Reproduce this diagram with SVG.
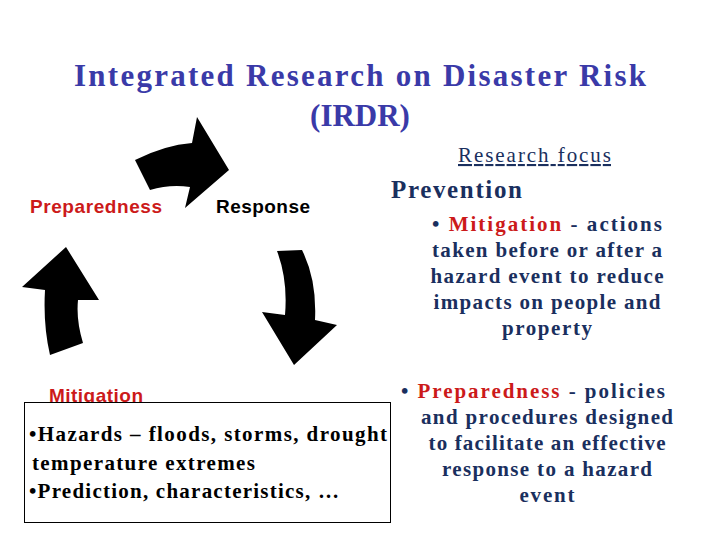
<svg xmlns="http://www.w3.org/2000/svg" width="720" height="540" viewBox="0 0 720 540">
<style>
.t{font-family:"Liberation Serif",serif;font-weight:bold;fill:#3a3aa8;font-size:31px;text-anchor:middle}
.lab{font-family:"Liberation Sans",Arial,sans-serif;font-weight:bold;font-size:19px}
.nv{font-family:"Liberation Serif",serif;font-weight:bold;fill:#1a2f5e;font-size:21px;text-anchor:middle}
.red{fill:#cc1a1a}
.bx{font-family:"Liberation Serif",serif;font-weight:bold;fill:#000;font-size:21px}
.arr{fill:#000}
</style>
<rect width="720" height="540" fill="#fff"/>
<text class="t" x="360" y="86" textLength="572">Integrated Research on Disaster Risk</text>
<text class="t" x="360" y="126">(IRDR)</text>
<g id="connectors">
<path class="arr" d="M135,160 Q165,145 192,143 L197,117 L229,170 L185,208 L190,187 Q170,184 150,190 Z"/>
<path class="arr" d="M277,251 L302,250 Q317,280 315,320 L337,325 L294,365 L262,312 L285,315 Q288,280 277,251 Z"/>
<path class="arr" d="M50,355 L83,343 Q76,320 78,300 L99,300 L66,247 L22,287 L45,290 Q43,325 50,355 Z"/>
</g>
<g id="preparedness"><text class="lab red" x="30" y="213" textLength="132">Preparedness</text></g>
<g id="response"><text class="lab" x="216" y="213" fill="#000" textLength="94">Response</text></g>
<g id="mitigation"><text class="lab red" x="49" y="402" textLength="94">Mitigation</text></g>
<g id="recovery"><text class="lab" x="218" y="419" fill="#000">Recovery</text></g>
<g id="hazards-box">
<rect x="24.5" y="402.5" width="366" height="120" fill="#fff" stroke="#000" stroke-width="1"/>
<text class="bx" x="29" y="441" textLength="358">•Hazards – floods, storms, drought</text>
<text class="bx" x="32" y="470" textLength="223">temperature extremes</text>
<text class="bx" x="29" y="498" textLength="310">•Prediction, characteristics, …</text>
</g>
<g id="research-focus">
<text x="458" y="162" textLength="153" text-decoration="underline" style="font-family:'Liberation Serif',serif;font-size:21px;fill:#1a2f5e">Research focus</text>
<text x="391" y="198" textLength="131" style="font-family:'Liberation Serif',serif;font-weight:bold;font-size:25px;fill:#1a2f5e">Prevention</text>
<text class="nv" x="547" y="231" textLength="230">•  <tspan class="red">Mitigation</tspan> - actions</text>
<text class="nv" x="547" y="257" textLength="230">taken before or after a</text>
<text class="nv" x="547" y="283" textLength="233">hazard event to reduce</text>
<text class="nv" x="547" y="309" textLength="227">impacts on people and</text>
<text class="nv" x="547" y="335" textLength="90">property</text>
<text class="nv" x="533" y="398" textLength="264">•  <tspan class="red">Preparedness</tspan> - policies</text>
<text class="nv" x="547" y="424" textLength="252">and procedures designed</text>
<text class="nv" x="547" y="450" textLength="237">to facilitate an effective</text>
<text class="nv" x="547" y="476" textLength="210">response to a hazard</text>
<text class="nv" x="547" y="502" textLength="55">event</text>
</g>
</svg>
